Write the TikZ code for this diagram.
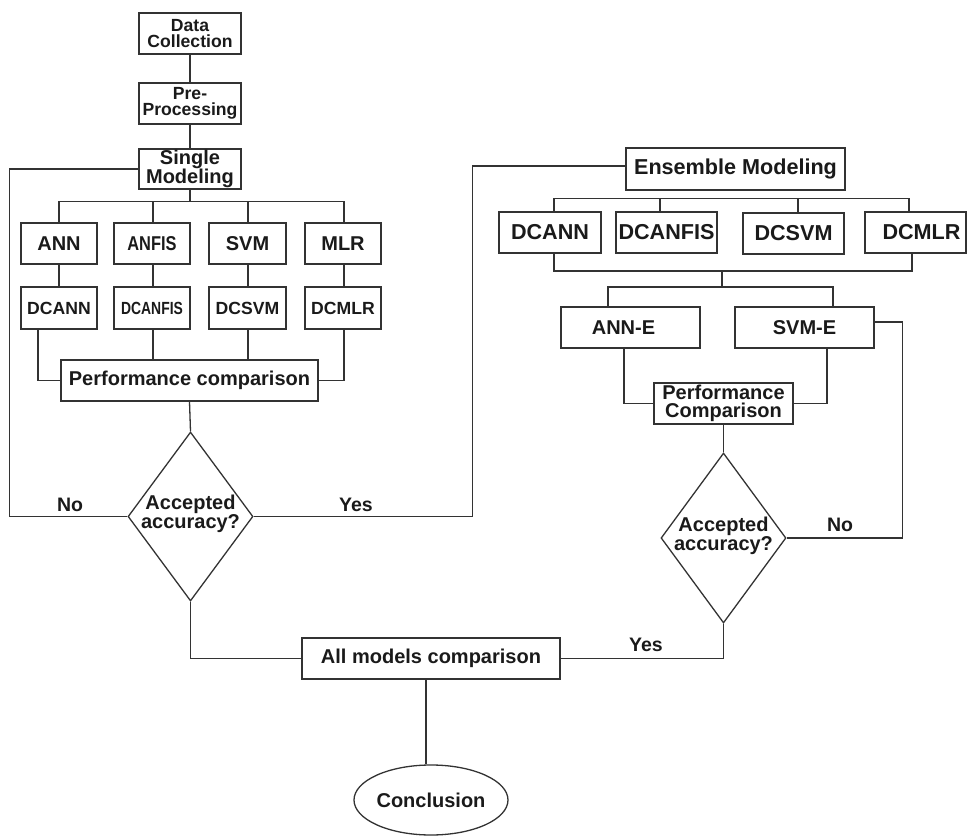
\documentclass[tikz,border=0pt]{standalone}
\usepackage{fontspec}
\usepackage{graphicx}
\setmainfont{Liberation Sans}
\usetikzlibrary{shapes.geometric,calc}

\definecolor{linec}{HTML}{333333}
\definecolor{textc}{HTML}{1A1A1A}

\tikzset{
  conn/.style={draw=linec, line width=1.3pt},
  box/.style={draw=linec, line width=1.3pt, rectangle, inner sep=0pt, align=center,
    text=textc, font=\bfseries\fontsize{20}{17}\selectfont},
  smallbox/.style={box, font=\bfseries\fontsize{17.6}{16.5}\selectfont},
  bigbox/.style={box, font=\bfseries\fontsize{21.6}{18}\selectfont},
  twoline/.style={box, font=\bfseries\fontsize{20}{18.5}\selectfont},
  decision/.style={draw=linec, line width=1.3pt, diamond, inner sep=0pt,
    minimum width=125pt, minimum height=169pt},
  dtext/.style={align=center, inner sep=0pt, text=textc,
    font=\bfseries\fontsize{20}{17}\selectfont},
  terminal/.style={draw=linec, line width=1.3pt, ellipse, inner sep=0pt,
    minimum width=154pt, minimum height=70pt, text=textc,
    font=\bfseries\fontsize{20}{16}\selectfont},
  lbl/.style={inner sep=0pt, text=textc, font=\bfseries\fontsize{19.5}{16}\selectfont}
}

\begin{document}
\begin{tikzpicture}[x=1pt, y=-1pt]
\useasboundingbox (0,0) rectangle (967,837);

% ---------- single modelling branch ----------
\node[smallbox, minimum width=102pt, minimum height=41pt] (dc) at (190,33.5) {Data\\Collection};
\node[smallbox, minimum width=102pt, minimum height=41pt] (pre) at (190,103.5) {Pre-\\Processing};
\node[box, minimum width=102pt, minimum height=40pt] (single) at (190,169) {Single\\Modeling};

\node[box, minimum width=76pt, minimum height=41pt] (ann)   at (59,243.5)  {ANN};
\node[box, minimum width=76pt, minimum height=41pt] (anfis) at (152,243.5) {\scalebox{0.82}[1]{ANFIS}};
\node[box, minimum width=77pt, minimum height=41pt] (svm)   at (247.5,243.5) {SVM};
\node[box, minimum width=76pt, minimum height=41pt] (mlr)   at (343,243.5) {MLR};

\node[smallbox, minimum width=76pt, minimum height=42pt] (dcann)   at (59,308)  {DCANN};
\node[smallbox, minimum width=76pt, minimum height=42pt] (dcanfis) at (152,308) {\scalebox{0.79}[1]{DCANFIS}};
\node[smallbox, minimum width=77pt, minimum height=42pt] (dcsvm)   at (247.5,308) {DCSVM};
\node[smallbox, minimum width=76pt, minimum height=42pt] (dcmlr)   at (343,308) {DCMLR};

\node[box, minimum width=257pt, minimum height=41pt] (perf) at (189.5,380.5) {Performance comparison};

\node[decision] (d1) at (190.5,516.5) {};
\node[dtext] (d1t) at ($(d1)+(0,-3)$) {Accepted\\accuracy?};

% ---------- ensemble modelling branch ----------
\node[bigbox, minimum width=219pt, minimum height=42pt] (ens) at (735.5,169) {Ensemble Modeling};

\node[bigbox, minimum width=102pt, minimum height=41pt] (dcannE)   at (550,232.5)   {DCANN};
\node[bigbox, minimum width=101pt, minimum height=41pt] (dcanfisE) at (666.5,232.5) {DCANFIS};
\node[bigbox, minimum width=101pt, minimum height=41pt] (dcsvmE)   at (793.5,233.5) {DCSVM};
\node[bigbox, minimum width=101pt, minimum height=41pt] (dcmlrE)   at (915.5,232.5) {\hspace*{12pt}DCMLR};

\node[box, minimum width=139pt, minimum height=41pt] (annE) at (630.5,327.5) {ANN-E\hspace*{14pt}};
\node[box, minimum width=139pt, minimum height=41pt] (svmE) at (804.5,327.5) {SVM-E};

\node[twoline, minimum width=139pt, minimum height=41pt] (perf2) at (723.5,403.5) {Performance\\Comparison};

\node[decision, minimum height=170pt] (d2) at (723.5,538) {};
\node[dtext] (d2t) at ($(d2)+(0,-2)$) {Accepted\\accuracy?};

% ---------- final stage ----------
\node[box, minimum width=258pt, minimum height=41pt] (all) at (431,658.5) {All models comparison};
\node[terminal] (concl) at (431,800) {Conclusion};

% ---------- connectors: single modelling ----------
\draw[conn] (dc.south) -- (pre.north);
\draw[conn] (pre.south) -- (single.north);
\coordinate (busL) at ($(single.south)+(0,12)$);
\draw[conn] (single.south) -- (busL);
\draw[conn] (ann.north) |- (busL);
\draw[conn] ([xshift=1pt]anfis.north) |- (busL);
\draw[conn] ([xshift=0.5pt]svm.north) |- (busL);
\draw[conn] ([xshift=1pt]mlr.north) |- (busL);

\draw[conn] (ann.south) -- (dcann.north);
\draw[conn] ([xshift=1pt]anfis.south) -- ([xshift=1pt]dcanfis.north);
\draw[conn] ([xshift=0.5pt]svm.south) -- ([xshift=0.5pt]dcsvm.north);
\draw[conn] ([xshift=1pt]mlr.south) -- ([xshift=1pt]dcmlr.north);

\draw[conn] ([xshift=-21pt]dcann.south) |- (perf.west);
\draw[conn] ([xshift=1pt]dcanfis.south) -- ([xshift=1pt]dcanfis.south |- perf.north);
\draw[conn] ([xshift=0.5pt]dcsvm.south) -- ([xshift=0.5pt]dcsvm.south |- perf.north);
\draw[conn] ([xshift=1pt]dcmlr.south) |- (perf.east);

\draw[conn] (perf.south) -- (d1.north);

% decision 1: loop back or go on to ensembles
\draw[conn] (d1.west) -| ($(single.west)+(-129,0)$) -- (single.west);
\draw[conn] (d1.east) -| ($(ens.west)+(-153,-3)$) -- ([yshift=3pt]ens.west);
\node[lbl] (no1)  at (70,505)  {No};
\node[lbl] (yes1) at (356,505) {Yes};

% ---------- connectors: ensemble modelling ----------
\coordinate (busE) at ($(ens.south)+(0,8)$);
\draw[conn] ([xshift=4pt]dcannE.north) |- (busE);
\draw[conn] ([xshift=-6.5pt]dcanfisE.north) |- (busE);
\draw[conn] ([xshift=4.5pt]dcsvmE.north) |- (busE);
\draw[conn] ([xshift=-6.5pt]dcmlrE.north) |- (busE);

\coordinate (busF) at (722,271);
\coordinate (busG) at (722,287);
\draw[conn] ([xshift=4pt]dcannE.south) |- (busF);
\draw[conn] ([xshift=-3.5pt]dcmlrE.south) |- (busF);
\draw[conn] (busF) -- (busG);
\draw[conn] ([xshift=-22.5pt]annE.north) |- (busG);
\draw[conn] ([xshift=28.5pt]svmE.north) |- (busG);

\draw[conn] ([xshift=-6.5pt]annE.south) |- (perf2.west);
\draw[conn] ([xshift=22.5pt]svmE.south) |- (perf2.east);
\draw[conn] (perf2.south) -- (d2.north);

% decision 2: loop back or go on to the final comparison
\draw[conn] ([yshift=5.5pt]svmE.east) -| ($(d2.east)+(116,0)$) -- (d2.east);
\node[lbl] (no2)  at (840,525) {No};
\node[lbl] (yes2) at (646,645) {Yes};

% ---------- final stage connectors ----------
\draw[conn] (d1.south) |- (all.west);
\draw[conn] (d2.south) |- (all.east);
\draw[conn] ([xshift=-5pt]all.south) -- ([xshift=-5pt]concl.north);

\end{tikzpicture}
\end{document}
